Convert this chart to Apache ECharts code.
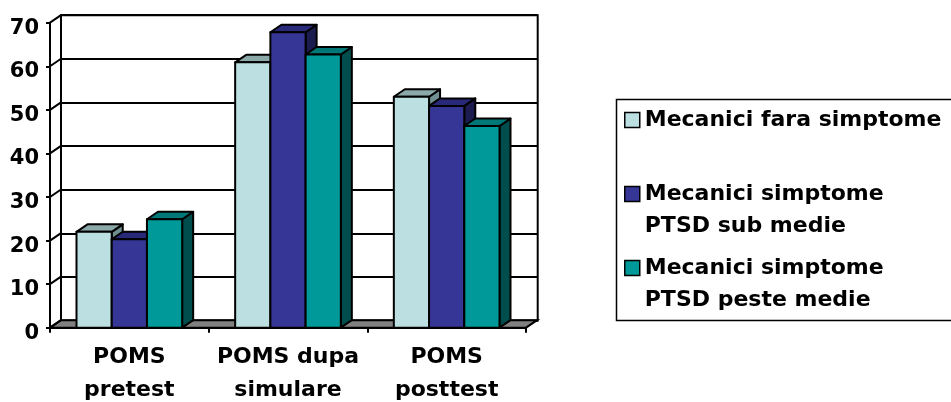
<!DOCTYPE html>
<html>
<head>
<meta charset="utf-8">
<script src="https://cdn.jsdelivr.net/npm/echarts@6/dist/echarts.min.js"></script>
<style>
  html, body { margin: 0; padding: 0; background: #fff; }
  #chart { width: 951px; height: 402px; }
</style>
</head>
<body>
<div id="chart"></div>
<script>
// Data
const categories = ['POMS\npretest', 'POMS dupa\nsimulare', 'POMS\nposttest']
const seriesNames = [
  'Mecanici fara simptome',
  'Mecanici simptome\nPTSD sub medie',
  'Mecanici simptome\nPTSD peste medie',
]
const faraSimptome = [22.0, 60.9, 53.0]
const subMedie = [20.3, 67.8, 50.9]
const pesteMedie = [24.9, 62.7, 46.3]
const yTicks = [0, 10, 20, 30, 40, 50, 60, 70]

// Styles
const FONT = 'DejaVu Sans'
const FACES = [
  { front: '#BCE0E2', top: '#8CA9AA', side: '#6F8F90' },
  { front: '#363696', top: '#29297A', side: '#1C1C50' },
  { front: '#009999', top: '#007878', side: '#004D4D' },
]
const DX = 11   // depth offset (px)
const DY = 7.5
const GAP = 0.167   // fraction of band before first bar
const BAR_W = 0.222 // fraction of band per bar
const LINE = '#000'

// grid geometry (front plane)
const G_LEFT = 50, G_TOP = 22.7, G_W = 476, G_H = 305

const chart = echarts.init(document.getElementById('chart'))

function bandEdges(api) {
  const band = api.size([1, 0])[0]
  const L = api.coord([0, 0])[0] - band / 2
  const R = api.coord([categories.length - 1, 0])[0] + band / 2
  return { band, L, R }
}

function renderFloor(params, api) {
  const { L, R } = bandEdges(api)
  const y0 = api.coord([0, 0])[1]
  return {
    type: 'polygon',
    shape: { points: [[L, y0], [R, y0], [R + DX, y0 - DY], [L + DX, y0 - DY]] },
    style: { fill: '#808080', stroke: LINE, lineWidth: 2 },
  }
}

function renderSideLine(params, api) {
  const { L } = bandEdges(api)
  const y = api.coord([0, api.value(1)])[1]
  return {
    type: 'line',
    shape: { x1: L, y1: y, x2: L + DX, y2: y - DY },
    style: { stroke: LINE, lineWidth: 2 },
  }
}

function makeBarRenderer(k) {
  const c = FACES[k]
  return (params, api) => {
    const cat = api.value(0)
    const val = api.value(1)
    const band = api.size([1, 0])[0]
    const base = api.coord([cat, 0])
    const top = api.coord([cat, val])
    const x0 = base[0] - band / 2 + band * GAP + k * band * BAR_W
    const x1 = x0 + band * BAR_W
    const y0 = base[1], y1 = top[1]
    const st = { stroke: LINE, lineWidth: 2, lineJoin: 'round' }
    return {
      type: 'group',
      children: [
        {
          type: 'polygon',
          shape: { points: [[x1, y1], [x1 + DX, y1 - DY], [x1 + DX, y0 - DY], [x1, y0]] },
          style: Object.assign({ fill: c.side }, st),
        },
        {
          type: 'polygon',
          shape: { points: [[x0, y1], [x0 + DX, y1 - DY], [x1 + DX, y1 - DY], [x1, y1]] },
          style: Object.assign({ fill: c.top }, st),
        },
        {
          type: 'rect',
          shape: { x: x0, y: y1, width: x1 - x0, height: y0 - y1 },
          style: Object.assign({ fill: c.front }, st),
        },
      ],
    }
  }
}

const values = [faraSimptome, subMedie, pesteMedie]

const legendBase = {
  orient: 'vertical',
  padding: 0,
  icon: 'rect',
  itemWidth: 15,
  itemHeight: 15,
  itemGap: 0,
  selectedMode: false,
  itemStyle: { borderColor: LINE, borderWidth: 1.5 },
  textStyle: { fontFamily: FONT, fontWeight: 'bold', fontSize: 22, color: '#000', lineHeight: 32 },
}

chart.setOption({
  animation: false,
  backgroundColor: '#fff',
  graphic: [
    {
      type: 'rect',
      left: 614, top: 97,
      shape: { width: 400, height: 221 },
      style: { fill: 'none', stroke: LINE, lineWidth: 1.5 },
      z: 0,
    },
  ],
  legend: [
    Object.assign({}, legendBase, {
      left: 624, top: 104,
      data: [seriesNames[0]],
    }),
    Object.assign({}, legendBase, {
      left: 624, top: 146,
      data: [seriesNames[1]],
      formatter: (n) => '\n' + n,
    }),
    Object.assign({}, legendBase, {
      left: 624, top: 220,
      data: [seriesNames[2]],
      formatter: (n) => '\n' + n,
    }),
  ],
  grid: [
    { left: G_LEFT, top: G_TOP, width: G_W, height: G_H, outerBoundsMode: 'none' },
    {
      left: G_LEFT + DX, top: G_TOP - DY, width: G_W + 0.7, height: G_H + 0.3,
      outerBoundsMode: 'none',
      show: true, borderColor: LINE, borderWidth: 2, backgroundColor: 'transparent',
    },
  ],
  xAxis: [
    {
      type: 'category',
      gridIndex: 0,
      data: categories,
      axisLine: { show: true, lineStyle: { color: LINE, width: 2 } },
      axisTick: { show: true, length: 5, lineStyle: { color: LINE, width: 2 } },
      axisLabel: {
        margin: 13,
        fontFamily: FONT, fontWeight: 'bold', fontSize: 22, color: '#000', lineHeight: 33,
        interval: 0,
      },
    },
    { type: 'category', gridIndex: 1, data: categories, show: false },
  ],
  yAxis: [
    {
      type: 'value',
      gridIndex: 0,
      min: 0, max: 70, interval: 10,
      axisLine: { show: true, lineStyle: { color: LINE, width: 2 } },
      axisTick: { show: true, length: 4, lineStyle: { color: LINE, width: 2 } },
      splitLine: { show: false },
      axisLabel: {
        margin: 11, verticalAlign: 'top', lineHeight: 11,
        fontFamily: FONT, fontWeight: 'bold', fontSize: 21, color: '#000',
      },
    },
    {
      type: 'value',
      gridIndex: 1,
      min: 0, max: 70, interval: 10,
      axisLine: { show: true, lineStyle: { color: LINE, width: 2 } },
      axisTick: { show: false },
      axisLabel: { show: false },
      splitLine: { show: true, lineStyle: { color: LINE, width: 2 } },
    },
  ],
  series: [
    {
      type: 'custom',
      name: 'floor',
      xAxisIndex: 0, yAxisIndex: 0,
      renderItem: renderFloor,
      data: [[0, 0]],
      silent: true,
    },
    {
      type: 'custom',
      name: 'sidewall',
      xAxisIndex: 0, yAxisIndex: 0,
      renderItem: renderSideLine,
      data: yTicks.map((v) => [0, v]),
      silent: true,
    },
  ].concat(values.map((vals, k) => ({
    type: 'custom',
    name: seriesNames[k],
    xAxisIndex: 0, yAxisIndex: 0,
    itemStyle: { color: FACES[k].front },
    renderItem: makeBarRenderer(k),
    encode: { x: 0, y: 1 },
    data: vals.map((v, i) => [i, v]),
  }))),
})
</script>
</body>
</html>
